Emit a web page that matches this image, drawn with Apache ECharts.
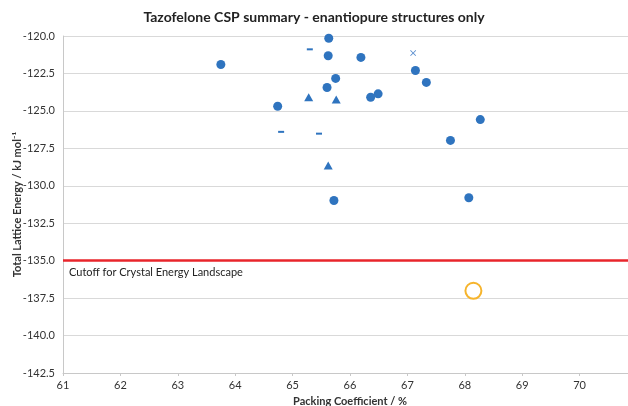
<!DOCTYPE html>
<html>
<head>
<meta charset="utf-8">
<script src="https://cdn.jsdelivr.net/npm/echarts@6/dist/echarts.min.js"></script>
<style>html,body{margin:0;padding:0;background:#fff;}#c{width:628px;height:406px;}</style>
</head>
<body>
<div id="c"></div>
<script>
// Data (packing coefficient %, total lattice energy kJ/mol)
var circlePoints = [
  [65.63, -120.15], [65.62, -121.32], [66.19, -121.43], [63.75, -121.90],
  [67.14, -122.30], [65.75, -122.83], [67.33, -123.10], [65.60, -123.44],
  [66.49, -123.86], [66.36, -124.09], [64.74, -124.69], [68.27, -125.58],
  [67.75, -126.97], [68.07, -130.80], [65.72, -130.98]
];
var trianglePoints = [[65.28, -124.09], [65.76, -124.24], [65.62, -128.64]];
var dashPoints = [[65.30, -120.89], [64.80, -126.40], [65.46, -126.52]];
var crossPoints = [[67.10, -121.14]];
var experimentalPoint = [[68.15, -137.01]];
var cutoffEnergy = -135;
var cutoffLabel = 'Cutoff for Crystal Energy Landscape';
var xTicks = [61, 62, 63, 64, 65, 66, 67, 68, 69, 70, 71];
var yTicks = [-142.5, -140.0, -137.5, -135.0, -132.5, -130.0, -127.5, -125.0, -122.5, -120.0];
var titleText = 'Tazofelone CSP summary - enantiopure structures only';
var xName = 'Packing Coefficient / %';
var yName = 'Total Lattice Energy / kJ mol\u207B\u00B9';

var FONT = 'Lato, "Open Sans", sans-serif';
var BLUE = '#2f74bf';
var chart = echarts.init(document.getElementById('c'), null, {renderer: 'canvas'});
chart.setOption({
  animation: false,
  backgroundColor: '#ffffff',
  title: {
    text: titleText, left: 'center', top: 5,
    textStyle: {fontFamily: FONT, fontWeight: 'bold', fontSize: 14, color: '#222'}
  },
  grid: {left: 63, right: -9, top: 36, bottom: 33, containLabel: false, outerBoundsMode: 'none'},
  xAxis: {
    type: 'value', min: xTicks[0], max: xTicks[xTicks.length - 1], interval: 1,
    name: xName, nameLocation: 'middle', nameGap: 23, nameMoveOverlap: false,
    nameTextStyle: {fontFamily: FONT, fontWeight: 'bold', fontSize: 11, color: '#333'},
    axisLine: {lineStyle: {color: '#c8c8c8'}},
    axisTick: {show: true, length: 3, lineStyle: {color: '#c8c8c8'}},
    axisLabel: {fontFamily: FONT, fontSize: 11, color: '#333', margin: 7,
      showMinLabel: true, showMaxLabel: true, hideOverlap: false},
    splitLine: {show: false}
  },
  yAxis: {
    type: 'value', min: yTicks[0], max: yTicks[yTicks.length - 1], interval: 2.5,
    name: yName, nameLocation: 'middle', nameGap: 40, nameRotate: 90, nameMoveOverlap: false,
    nameTextStyle: {fontFamily: FONT, fontWeight: 'bold', fontSize: 11, color: '#333'},
    axisLine: {show: true, lineStyle: {color: '#c8c8c8'}},
    axisTick: {show: false},
    axisLabel: {fontFamily: FONT, fontSize: 11, color: '#333', margin: 8,
      formatter: function (v) { return v.toFixed(1); }},
    splitLine: {lineStyle: {color: '#d9d9d9', width: 1}}
  },
  series: [
    {type: 'scatter', data: circlePoints, symbol: 'circle', symbolSize: 9,
      itemStyle: {color: BLUE, opacity: 1},
      markLine: {
        silent: true, symbol: ['none', 'none'],
        lineStyle: {color: '#e8252b', width: 2.5, type: 'solid'},
        label: {show: true, position: 'insideStartBottom', formatter: cutoffLabel,
          fontFamily: FONT, fontSize: 11, color: '#222', distance: [6, 6]},
        data: [{yAxis: cutoffEnergy}]
      }
    },
    {type: 'scatter', data: trianglePoints, symbol: 'triangle', symbolSize: [9, 8],
      itemStyle: {color: BLUE, opacity: 1}},
    {type: 'scatter', data: dashPoints, symbol: 'rect', symbolSize: [6, 2],
      itemStyle: {color: BLUE, opacity: 1}},
    {type: 'scatter', data: crossPoints,
      symbol: 'path://M0,1L1,0L5,4L9,0L10,1L6,5L10,9L9,10L5,6L1,10L0,9L4,5Z', symbolSize: 6,
      itemStyle: {color: '#5b8fcf', opacity: 1}},
    {type: 'scatter', data: experimentalPoint, symbol: 'circle', symbolSize: 16,
      itemStyle: {color: 'rgba(255,255,255,0)', borderColor: '#f6b42c', borderWidth: 2, opacity: 1}}
  ]
});
</script>
</body>
</html>
